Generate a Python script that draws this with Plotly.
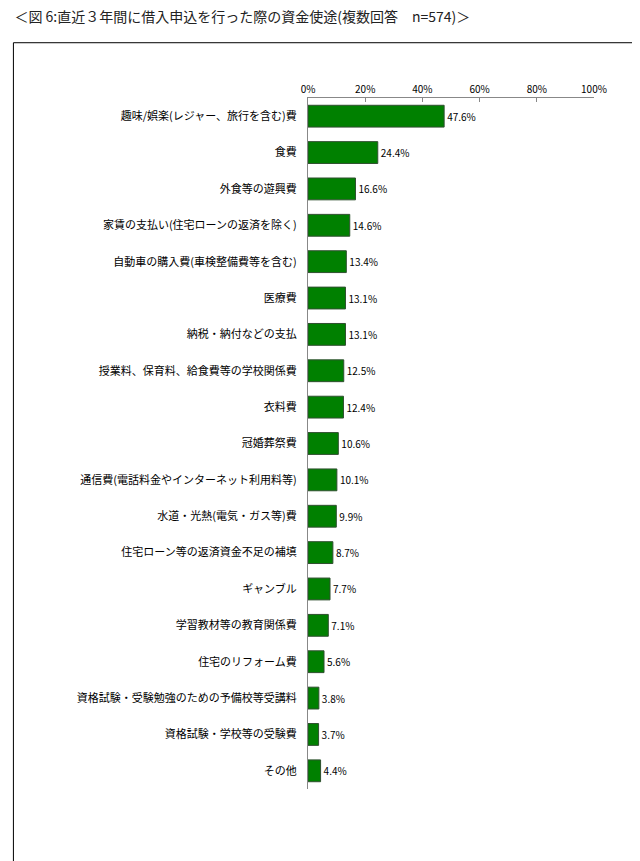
import plotly.graph_objects as go

categories = [
    "趣味/娯楽(レジャー、旅行を含む)費", "食費", "外食等の遊興費",
    "家賃の支払い(住宅ローンの返済を除く)", "自動車の購入費(車検整備費等を含む)",
    "医療費", "納税・納付などの支払", "授業料、保育料、給食費等の学校関係費",
    "衣料費", "冠婚葬祭費", "通信費(電話料金やインターネット利用料等)",
    "水道・光熱(電気・ガス等)費", "住宅ローン等の返済資金不足の補填", "ギャンブル",
    "学習教材等の教育関係費", "住宅のリフォーム費",
    "資格試験・受験勉強のための予備校等受講料", "資格試験・学校等の受験費", "その他",
]
values = [47.6, 24.4, 16.6, 14.6, 13.4, 13.1, 13.1, 12.5, 12.4, 10.6,
          10.1, 9.9, 8.7, 7.7, 7.1, 5.6, 3.8, 3.7, 4.4]
tick_vals = [0, 20, 40, 60, 80, 100]
tick_text = ["0%", "20%", "40%", "60%", "80%", "100%"]

font = "Noto Sans CJK JP"

fig = go.Figure(go.Bar(
    y=categories, x=values, orientation="h",
    marker=dict(color="#008000", line=dict(color="#2f4f2f", width=1)),
    width=0.6,
    text=[f"{v}%" for v in values], textposition="outside",
    textfont=dict(size=10, color="black", family=font),
    cliponaxis=False,
))

fig.update_layout(
    width=640, height=861,
    paper_bgcolor="white", plot_bgcolor="white",
    margin=dict(l=300, r=54, t=90, b=80),
    showlegend=False,
    font=dict(family=font, size=11, color="black"),
    title=dict(text="＜図 6:直近３年間に借入申込を行った際の資金使途(複数回答　n=574)＞",
               x=0.01, xanchor="left", y=0.995, yanchor="top",
               font=dict(size=14, color="#222")),
    bargap=0.4,
)
fig.update_xaxes(
    side="top", range=[0, 100], tickvals=tick_vals, ticktext=tick_text,
    showgrid=False, showline=True, linecolor="#888", ticks="inside",
    ticklen=4, tickcolor="#888", tickfont=dict(size=10), zeroline=False,
)
fig.update_yaxes(
    autorange="reversed", showline=True, linecolor="#888",
    ticks="", tickfont=dict(size=11), ticklabelstandoff=8,
)
fig.add_shape(type="rect", xref="paper", yref="paper",
              x0=-1.03, x1=1.164, y0=-0.107, y1=1.08,
              line=dict(color="black", width=1))

fig.write_html("out.html")
